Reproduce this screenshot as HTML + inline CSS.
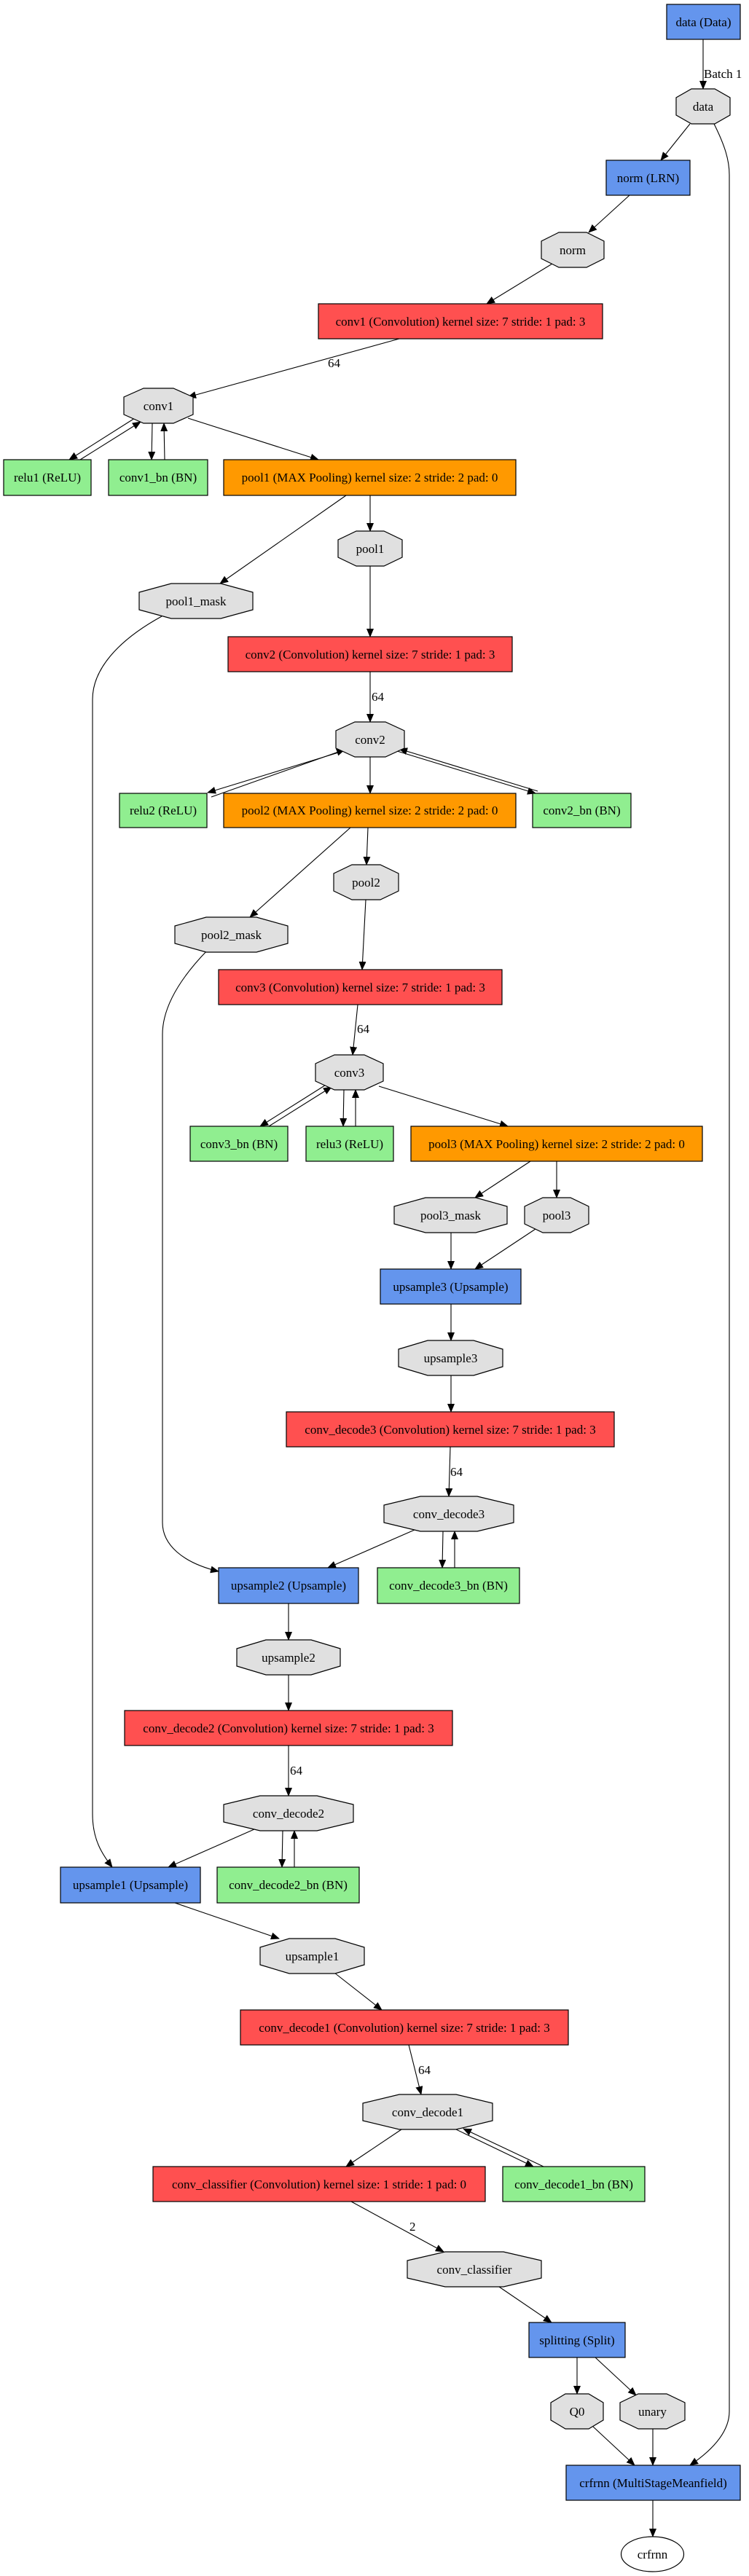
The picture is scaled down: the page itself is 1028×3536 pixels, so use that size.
<!DOCTYPE html>
<html><head><meta charset="utf-8"><style>
html,body{margin:0;padding:0;background:#fff;}
svg{display:block;}
text{font-family:"Liberation Serif",serif;font-size:17px;fill:#000;}
.b{stroke:#000;stroke-width:1.2;}
.e{stroke:#000;stroke-width:1.1;fill:none;marker-end:url(#ah);}
.o{fill:#e0e0e0;stroke:#000;stroke-width:1.2;}
</style></head><body>
<svg width="1028" height="3536" viewBox="0 0 1028 3536" xmlns="http://www.w3.org/2000/svg">
<defs><marker id="ah" markerWidth="12" markerHeight="10" refX="11" refY="5" orient="auto" markerUnits="userSpaceOnUse"><path d="M0,0 L12,5 L0,10 z" fill="#000"/></marker></defs>

<path class="e" d="M965,54 L965,122"/>
<path class="e" d="M947,170 L907,220"/>
<path class="e" d="M864,268 L808,319"/>
<path class="e" d="M758,362 L668,417"/>
<path class="e" d="M548,465 L258,545"/>
<path class="e" d="M185,574 L95,631"/>
<path class="e" d="M110,631 L193,579"/>
<path class="e" d="M209,581 L208,631"/>
<path class="e" d="M226,631 L225,581"/>
<path class="e" d="M258,574 L437,631"/>
<path class="e" d="M475,680 L302,801"/>
<path class="e" d="M508,680 L508,729"/>
<path class="e" d="M508,777 L508,874"/>
<path class="e" d="M222,846 C160,880 127,920 127,960 L127,2490 C127,2525 140,2545 154,2563"/>
<path class="e" d="M980,170 C995,200 1001,220 1001,240 L1001,3310 C1001,3340 975,3365 947,3384"/>
<path class="e" d="M508,922 L508,991"/>
<path class="e" d="M471,1031 L285,1088"/>
<path class="e" d="M290,1094 L473,1029"/>
<path class="e" d="M508,1039 L508,1089"/>
<path class="e" d="M545,1031 L735,1089"/>
<path class="e" d="M738,1086 L548,1028"/>
<path class="e" d="M481,1136 L343,1259"/>
<path class="e" d="M505,1136 L503,1187"/>
<path class="e" d="M502,1235 L497,1331"/>
<path class="e" d="M285,1304 C250,1340 223,1380 223,1420 L223,2090 C223,2120 250,2145 300,2157"/>
<path class="e" d="M491,1379 L484,1448"/>
<path class="e" d="M449,1488 L357,1546"/>
<path class="e" d="M369,1546 L455,1492"/>
<path class="e" d="M472,1496 L471,1546"/>
<path class="e" d="M488,1546 L488,1496"/>
<path class="e" d="M520,1491 L697,1546"/>
<path class="e" d="M728,1594 L652,1644"/>
<path class="e" d="M764,1594 L764,1644"/>
<path class="e" d="M619,1692 L619,1742"/>
<path class="e" d="M735,1687 L652,1742"/>
<path class="e" d="M619,1790 L619,1840"/>
<path class="e" d="M619,1888 L619,1938"/>
<path class="e" d="M618,1986 L616,2054"/>
<path class="e" d="M569,2100 L450,2152"/>
<path class="e" d="M608,2102 L607,2152"/>
<path class="e" d="M624,2152 L624,2102"/>
<path class="e" d="M396,2201 L396,2251"/>
<path class="e" d="M396,2299 L396,2348"/>
<path class="e" d="M396,2396 L396,2465"/>
<path class="e" d="M349,2511 L231,2563"/>
<path class="e" d="M388,2513 L387,2563"/>
<path class="e" d="M404,2563 L404,2513"/>
<path class="e" d="M240,2612 L383,2661"/>
<path class="e" d="M459,2708 L524,2759"/>
<path class="e" d="M561,2807 L578,2875"/>
<path class="e" d="M551,2923 L475,2974"/>
<path class="e" d="M626,2923 L732,2974"/>
<path class="e" d="M746,2974 L636,2922"/>
<path class="e" d="M482,3022 L609,3091"/>
<path class="e" d="M685,3139 L757,3188"/>
<path class="e" d="M792,3236 L792,3286"/>
<path class="e" d="M817,3236 L873,3288"/>
<path class="e" d="M814,3331 L871,3384"/>
<path class="e" d="M896,3334 L896,3384"/>
<path class="e" d="M896,3432 L896,3482"/>

<text x="966" y="107">Batch 1</text>
<text x="450" y="504">64</text>
<text x="510" y="962">64</text>
<text x="490" y="1418">64</text>
<text x="618" y="2026">64</text>
<text x="398" y="2436">64</text>
<text x="574" y="2847">64</text>
<text x="562" y="3062">2</text>

<rect class="b" x="915" y="6" width="101" height="48" fill="#6495ed"/>
<rect class="b" x="832" y="220" width="115" height="48" fill="#6495ed"/>
<rect class="b" x="437" y="417" width="390" height="48" fill="#ff5050"/>
<rect class="b" x="5" y="631" width="120" height="49" fill="#90ee90"/>
<rect class="b" x="149" y="631" width="136" height="49" fill="#90ee90"/>
<rect class="b" x="307" y="631" width="401" height="49" fill="#ff9900"/>
<rect class="b" x="313" y="874" width="390" height="48" fill="#ff5050"/>
<rect class="b" x="164" y="1089" width="120" height="47" fill="#90ee90"/>
<rect class="b" x="307" y="1089" width="401" height="47" fill="#ff9900"/>
<rect class="b" x="731" y="1089" width="135" height="47" fill="#90ee90"/>
<rect class="b" x="300" y="1331" width="389" height="48" fill="#ff5050"/>
<rect class="b" x="261" y="1546" width="134" height="48" fill="#90ee90"/>
<rect class="b" x="420" y="1546" width="120" height="48" fill="#90ee90"/>
<rect class="b" x="564" y="1546" width="400" height="48" fill="#ff9900"/>
<rect class="b" x="522" y="1742" width="193" height="48" fill="#6495ed"/>
<rect class="b" x="393" y="1938" width="450" height="48" fill="#ff5050"/>
<rect class="b" x="300" y="2152" width="192" height="49" fill="#6495ed"/>
<rect class="b" x="518" y="2152" width="195" height="49" fill="#90ee90"/>
<rect class="b" x="171" y="2348" width="450" height="48" fill="#ff5050"/>
<rect class="b" x="83" y="2563" width="192" height="49" fill="#6495ed"/>
<rect class="b" x="298" y="2563" width="195" height="49" fill="#90ee90"/>
<rect class="b" x="330" y="2759" width="450" height="48" fill="#ff5050"/>
<rect class="b" x="210" y="2974" width="456" height="48" fill="#ff5050"/>
<rect class="b" x="690" y="2974" width="195" height="48" fill="#90ee90"/>
<rect class="b" x="726" y="3188" width="132" height="48" fill="#6495ed"/>
<rect class="b" x="777" y="3384" width="239" height="48" fill="#6495ed"/>
<ellipse cx="895.5" cy="3506" rx="43" ry="24" fill="#fff" stroke="#000" stroke-width="1.2"/>

<polygon class="o" points="949,122 981,122 1002,134 1002,158 981,170 949,170 928,158 928,134"/>
<polygon class="o" points="767,319 805,319 829,331 829,355 805,367 767,367 743,355 743,331"/>
<polygon class="o" points="197,533 238,533 265,545 265,569 238,581 197,581 170,569 170,545"/>
<polygon class="o" points="489,729 527,729 552,741 552,765 527,777 489,777 464,765 464,741"/>
<polygon class="o" points="235,801 303,801 347,813 347,837 303,849 235,849 191,837 191,813"/>
<polygon class="o" points="487,991 529,991 555,1003 555,1027 529,1039 487,1039 461,1027 461,1003"/>
<polygon class="o" points="483,1187 522,1187 547,1199 547,1223 522,1235 483,1235 458,1223 458,1199"/>
<polygon class="o" points="283,1259 352,1259 395,1271 395,1295 352,1307 283,1307 240,1295 240,1271"/>
<polygon class="o" points="459,1448 500,1448 526,1460 526,1484 500,1496 459,1496 433,1484 433,1460"/>
<polygon class="o" points="584,1644 653,1644 696,1656 696,1680 653,1692 584,1692 541,1680 541,1656"/>
<polygon class="o" points="745,1644 783,1644 808,1656 808,1680 783,1692 745,1692 720,1680 720,1656"/>
<polygon class="o" points="587,1840 650,1840 690,1852 690,1876 650,1888 587,1888 547,1876 547,1852"/>
<polygon class="o" points="577,2054 655,2054 705,2066 705,2090 655,2102 577,2102 527,2090 527,2066"/>
<polygon class="o" points="365,2251 427,2251 467,2263 467,2287 427,2299 365,2299 325,2287 325,2263"/>
<polygon class="o" points="357,2465 435,2465 485,2477 485,2501 435,2513 357,2513 307,2501 307,2477"/>
<polygon class="o" points="397,2661 460,2661 500,2673 500,2697 460,2709 397,2709 357,2697 357,2673"/>
<polygon class="o" points="548,2875 626,2875 676,2887 676,2911 626,2923 548,2923 498,2911 498,2887"/>
<polygon class="o" points="611,3091 691,3091 743,3103 743,3127 691,3139 611,3139 559,3127 559,3103"/>
<polygon class="o" points="776,3286 808,3286 828,3298 828,3322 808,3334 776,3334 756,3322 756,3298"/>
<polygon class="o" points="876,3286 915,3286 940,3298 940,3322 915,3334 876,3334 851,3322 851,3298"/>

<g text-anchor="middle">
<text x="965.5" y="36">data (Data)</text>
<text x="965" y="152">data</text>
<text x="889.5" y="250">norm (LRN)</text>
<text x="786" y="349">norm</text>
<text x="632" y="447">conv1 (Convolution) kernel size: 7 stride: 1 pad: 3</text>
<text x="217.5" y="563">conv1</text>
<text x="65" y="661">relu1 (ReLU)</text>
<text x="217" y="661">conv1_bn (BN)</text>
<text x="507.5" y="661">pool1 (MAX Pooling) kernel size: 2 stride: 2 pad: 0</text>
<text x="508" y="759">pool1</text>
<text x="269" y="831">pool1_mask</text>
<text x="508" y="904">conv2 (Convolution) kernel size: 7 stride: 1 pad: 3</text>
<text x="508" y="1021">conv2</text>
<text x="224" y="1118">relu2 (ReLU)</text>
<text x="507.5" y="1118">pool2 (MAX Pooling) kernel size: 2 stride: 2 pad: 0</text>
<text x="798.5" y="1118">conv2_bn (BN)</text>
<text x="502.5" y="1217">pool2</text>
<text x="317.5" y="1289">pool2_mask</text>
<text x="494.5" y="1361">conv3 (Convolution) kernel size: 7 stride: 1 pad: 3</text>
<text x="479.5" y="1478">conv3</text>
<text x="328" y="1576">conv3_bn (BN)</text>
<text x="480" y="1576">relu3 (ReLU)</text>
<text x="764" y="1576">pool3 (MAX Pooling) kernel size: 2 stride: 2 pad: 0</text>
<text x="618.5" y="1674">pool3_mask</text>
<text x="764" y="1674">pool3</text>
<text x="618.5" y="1772">upsample3 (Upsample)</text>
<text x="618.5" y="1870">upsample3</text>
<text x="618" y="1968">conv_decode3 (Convolution) kernel size: 7 stride: 1 pad: 3</text>
<text x="616" y="2084">conv_decode3</text>
<text x="396" y="2182">upsample2 (Upsample)</text>
<text x="615.5" y="2182">conv_decode3_bn (BN)</text>
<text x="396" y="2281">upsample2</text>
<text x="396" y="2378">conv_decode2 (Convolution) kernel size: 7 stride: 1 pad: 3</text>
<text x="396" y="2495">conv_decode2</text>
<text x="179" y="2593">upsample1 (Upsample)</text>
<text x="395.5" y="2593">conv_decode2_bn (BN)</text>
<text x="428.5" y="2691">upsample1</text>
<text x="555" y="2789">conv_decode1 (Convolution) kernel size: 7 stride: 1 pad: 3</text>
<text x="587" y="2905">conv_decode1</text>
<text x="438" y="3004">conv_classifier (Convolution) kernel size: 1 stride: 1 pad: 0</text>
<text x="787.5" y="3004">conv_decode1_bn (BN)</text>
<text x="651" y="3121">conv_classifier</text>
<text x="792" y="3218">splitting (Split)</text>
<text x="792" y="3316">Q0</text>
<text x="895.5" y="3316">unary</text>
<text x="896.5" y="3414">crfrnn (MultiStageMeanfield)</text>
<text x="895.5" y="3512">crfrnn</text>
</g>
</svg>
</body></html>
